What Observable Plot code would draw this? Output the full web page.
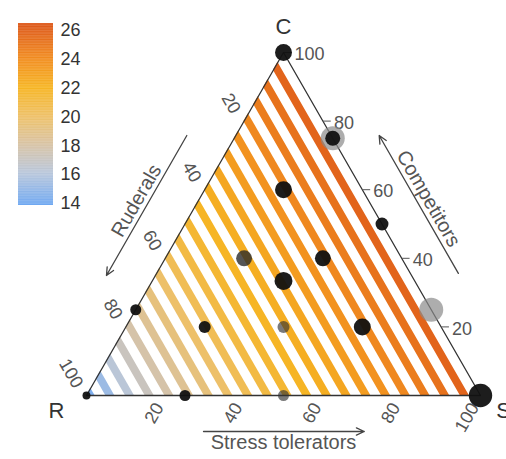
<!DOCTYPE html>
<html><head><meta charset="utf-8">
<script src="https://cdn.jsdelivr.net/npm/d3@7"></script>
<script src="https://cdn.jsdelivr.net/npm/@observablehq/plot@0.6"></script>
<style>
html,body{margin:0;padding:0;background:#fff;overflow:hidden;}
#wrap{position:relative;width:506px;height:459px;overflow:hidden;}
#wrap > svg{position:absolute;left:0;top:0;}
</style></head><body><div id="wrap"></div>
<script>
// ---- data ----
const vertexNames = ["R", "S", "C"];
const tickValues = [20, 40, 60, 80, 100];
const legendTicks = [14, 16, 18, 20, 22, 24, 26];
const colorStops = [14, 16, 18, 20, 22, 24, 26];
const colorRange = ["#74aaf0", "#b7c6dc", "#d7c3a6", "#eec066", "#f6b422", "#f18c1f", "#e0601a"];
// contour stripes: lines of constant R (%), and their value on the colour scale
const stripeR = [4, 9, 14, 19, 24, 29, 34, 39, 44, 49, 54, 59, 64, 69, 74, 79, 84, 89, 94, 99];
const stripeValue = [25.8, 25.2, 24.7, 24.2, 23.7, 23.2, 22.7, 22.3, 21.9, 21.5, 21.0, 20.5, 19.9, 19.3, 18.6, 17.9, 17.1, 16.2, 15.2, 14.3];
// points (R, S, C in %), weight and shade
const pointR = [0, 0, 0, 20, 0, 40, 20, 33.3, 75, 60, 40, 20, 0, 0, 75, 50, 100];
const pointS = [0, 25, 25, 20, 50, 20, 40, 33.3, 0, 20, 40, 60, 75, 100, 25, 50, 0];
const pointC = [100, 75, 75, 60, 50, 40, 40, 33.4, 25, 20, 20, 20, 25, 0, 0, 0, 0];
const pointWeight = [50, 100, 39, 50, 29, 44, 44, 56, 21, 25, 25, 50, 100, 95, 21, 21, 11];
const pointShade = ["solid", "light", "solid", "solid", "solid", "mid", "solid", "solid", "solid", "solid", "faint", "solid", "light", "solid", "solid", "faint", "solid"];

// ---- geometry helpers ----
const H = Math.sqrt(3) / 2;
const tx = (s, c) => s / 100 + c / 200;
const ty = (c) => c / 100 * H;

const stripeHalf = 1.15;
const stripeRows = [];
stripeR.forEach((r, i) => {
  const a = Math.max(0, r - stripeHalf) / 100, b = Math.min(100, r + stripeHalf) / 100;
  const rows = [[0, 1 - b, 1 - a], [1 - b, (1 - b) / 2, 1 - a - (1 - b) / 2], [1 - a, (1 - a) / 2, (1 - a) / 2]];
  for (const [c, x1, x2] of rows) stripeRows.push({id: i, value: stripeValue[i], y: c * H, x1, x2});
});

const points = pointR.map((r, i) => ({x: tx(pointS[i], pointC[i]), y: ty(pointC[i]), w: pointWeight[i], shade: pointShade[i]}));
const verts = vertexNames.map(n => ({n, x: n === "R" ? 0 : n === "S" ? 1 : 0.5, y: n === "C" ? H : 0}));
const outline = [verts[0], verts[1], verts[2], verts[0]];

const font = "'Liberation Sans', Arial, Helvetica, sans-serif";
const dotShade = {solid: ["#111", 0.95], mid: ["#2a2a2a", 0.8], faint: ["#333", 0.65], light: ["#8a8a8a", 0.7]};

const main = Plot.plot({
  width: 506, height: 459,
  marginLeft: 86, marginRight: 26, marginTop: 52, marginBottom: 64,
  x: {domain: [0, 1], axis: null},
  y: {domain: [0, H], axis: null},
  color: {type: "linear", domain: colorStops, range: colorRange},
  r: {type: "sqrt", domain: [0, 100], range: [0, 12]},
  style: {fontFamily: font, background: "transparent", overflow: "visible"},
  marks: [
    Plot.areaX(stripeRows, {y: "y", x1: "x1", x2: "x2", z: "id", fill: "value", curve: "linear"}),
    Plot.line(outline, {x: "x", y: "y", stroke: "#333", strokeWidth: 1.3}),
    // right axis (C) ticks and labels
    Plot.link(tickValues, {x1: t => 1 - t / 200, y1: t => ty(t), x2: t => 1 - t / 200 + 0.02, y2: t => ty(t), stroke: "#555", strokeWidth: 1}),
    Plot.text(tickValues, {x: t => 1 - t / 200, y: t => ty(t), text: t => String(t), textAnchor: "start", dx: 11, dy: 2, fontSize: 18, fill: "#555"}),
    // bottom axis (S)
    Plot.text(tickValues, {x: t => t / 100, y: 0, text: t => String(t), textAnchor: "end", rotate: -60, dx: -6, dy: 9, fontSize: 18, fill: "#555"}),
    // left axis (R)
    Plot.text(tickValues, {x: t => (1 - t / 100) / 2, y: t => (1 - t / 100) * H, text: t => String(t), textAnchor: "end", rotate: 60, dx: -8, dy: -9, fontSize: 18, fill: "#555"}),
    // axis titles with arrows
    Plot.arrow([0], {x1: tx(0, 75.8), y1: ty(75.8), x2: tx(0, 35), y2: ty(35), dx: -49, stroke: "#444", strokeWidth: 1.3, headLength: 10, headAngle: 50}),
    Plot.text(["Ruderals"], {x: tx(0, 56.8), y: ty(56.8), text: d => d, rotate: -60, dx: -62, fontSize: 20, fill: "#555"}),
    Plot.arrow([0], {x1: tx(64.4, 35.6), y1: ty(35.6), x2: tx(24.2, 75.8), y2: ty(75.8), dx: 48, stroke: "#444", strokeWidth: 1.3, headLength: 10, headAngle: 50}),
    Plot.text(["Competitors"], {x: tx(42.6, 57.4), y: ty(57.4), text: d => d, rotate: 60, dx: 61, fontSize: 20, fill: "#555"}),
    Plot.arrow([0], {x1: 0.297, y1: 0, x2: 0.705, y2: 0, dy: 36, stroke: "#444", strokeWidth: 1.3, headLength: 10, headAngle: 50}),
    Plot.text(["Stress tolerators"], {x: 0.5, y: 0, text: d => d, dy: 47, fontSize: 20, fill: "#555"}),
    // vertex labels
    Plot.text(verts.filter(d => d.n === "C"), {x: "x", y: "y", text: "n", fontSize: 22, fill: "#333", dy: -26}),
    Plot.text(verts.filter(d => d.n === "R"), {x: "x", y: "y", text: "n", fontSize: 22, fill: "#333", dx: -30, dy: 15}),
    Plot.text(verts.filter(d => d.n === "S"), {x: "x", y: "y", text: "n", fontSize: 22, fill: "#333", dx: 23, dy: 15}),
    // points
    ...["light", "faint", "mid", "solid"].map(sh => Plot.dot(points.filter(d => d.shade === sh), {
      x: "x", y: "y", r: "w", fill: dotShade[sh][0], fillOpacity: dotShade[sh][1], stroke: "none"
    }))
  ]
});

const legendValues = d3.range(13.86, 26.49, 0.05);
const legend = Plot.plot({
  width: 100, height: 220,
  marginLeft: 18, marginRight: 47, marginTop: 23, marginBottom: 15,
  x: {domain: [0, 1], axis: null},
  y: {domain: [13.86, 26.49], axis: "right", ticks: legendTicks, tickSize: 0, tickPadding: 7, label: null},
  color: {type: "linear", domain: colorStops, range: colorRange},
  style: {fontFamily: font, fontSize: "18px", color: "#333", background: "transparent"},
  marks: [
    Plot.rect(legendValues, {x1: 0, x2: 1, y1: d => d, y2: d => Math.min(26.49, d + 0.07), fill: d => d})
  ]
});

const wrap = document.getElementById("wrap");
wrap.appendChild(main);
wrap.appendChild(legend);
</script>
</body></html>
